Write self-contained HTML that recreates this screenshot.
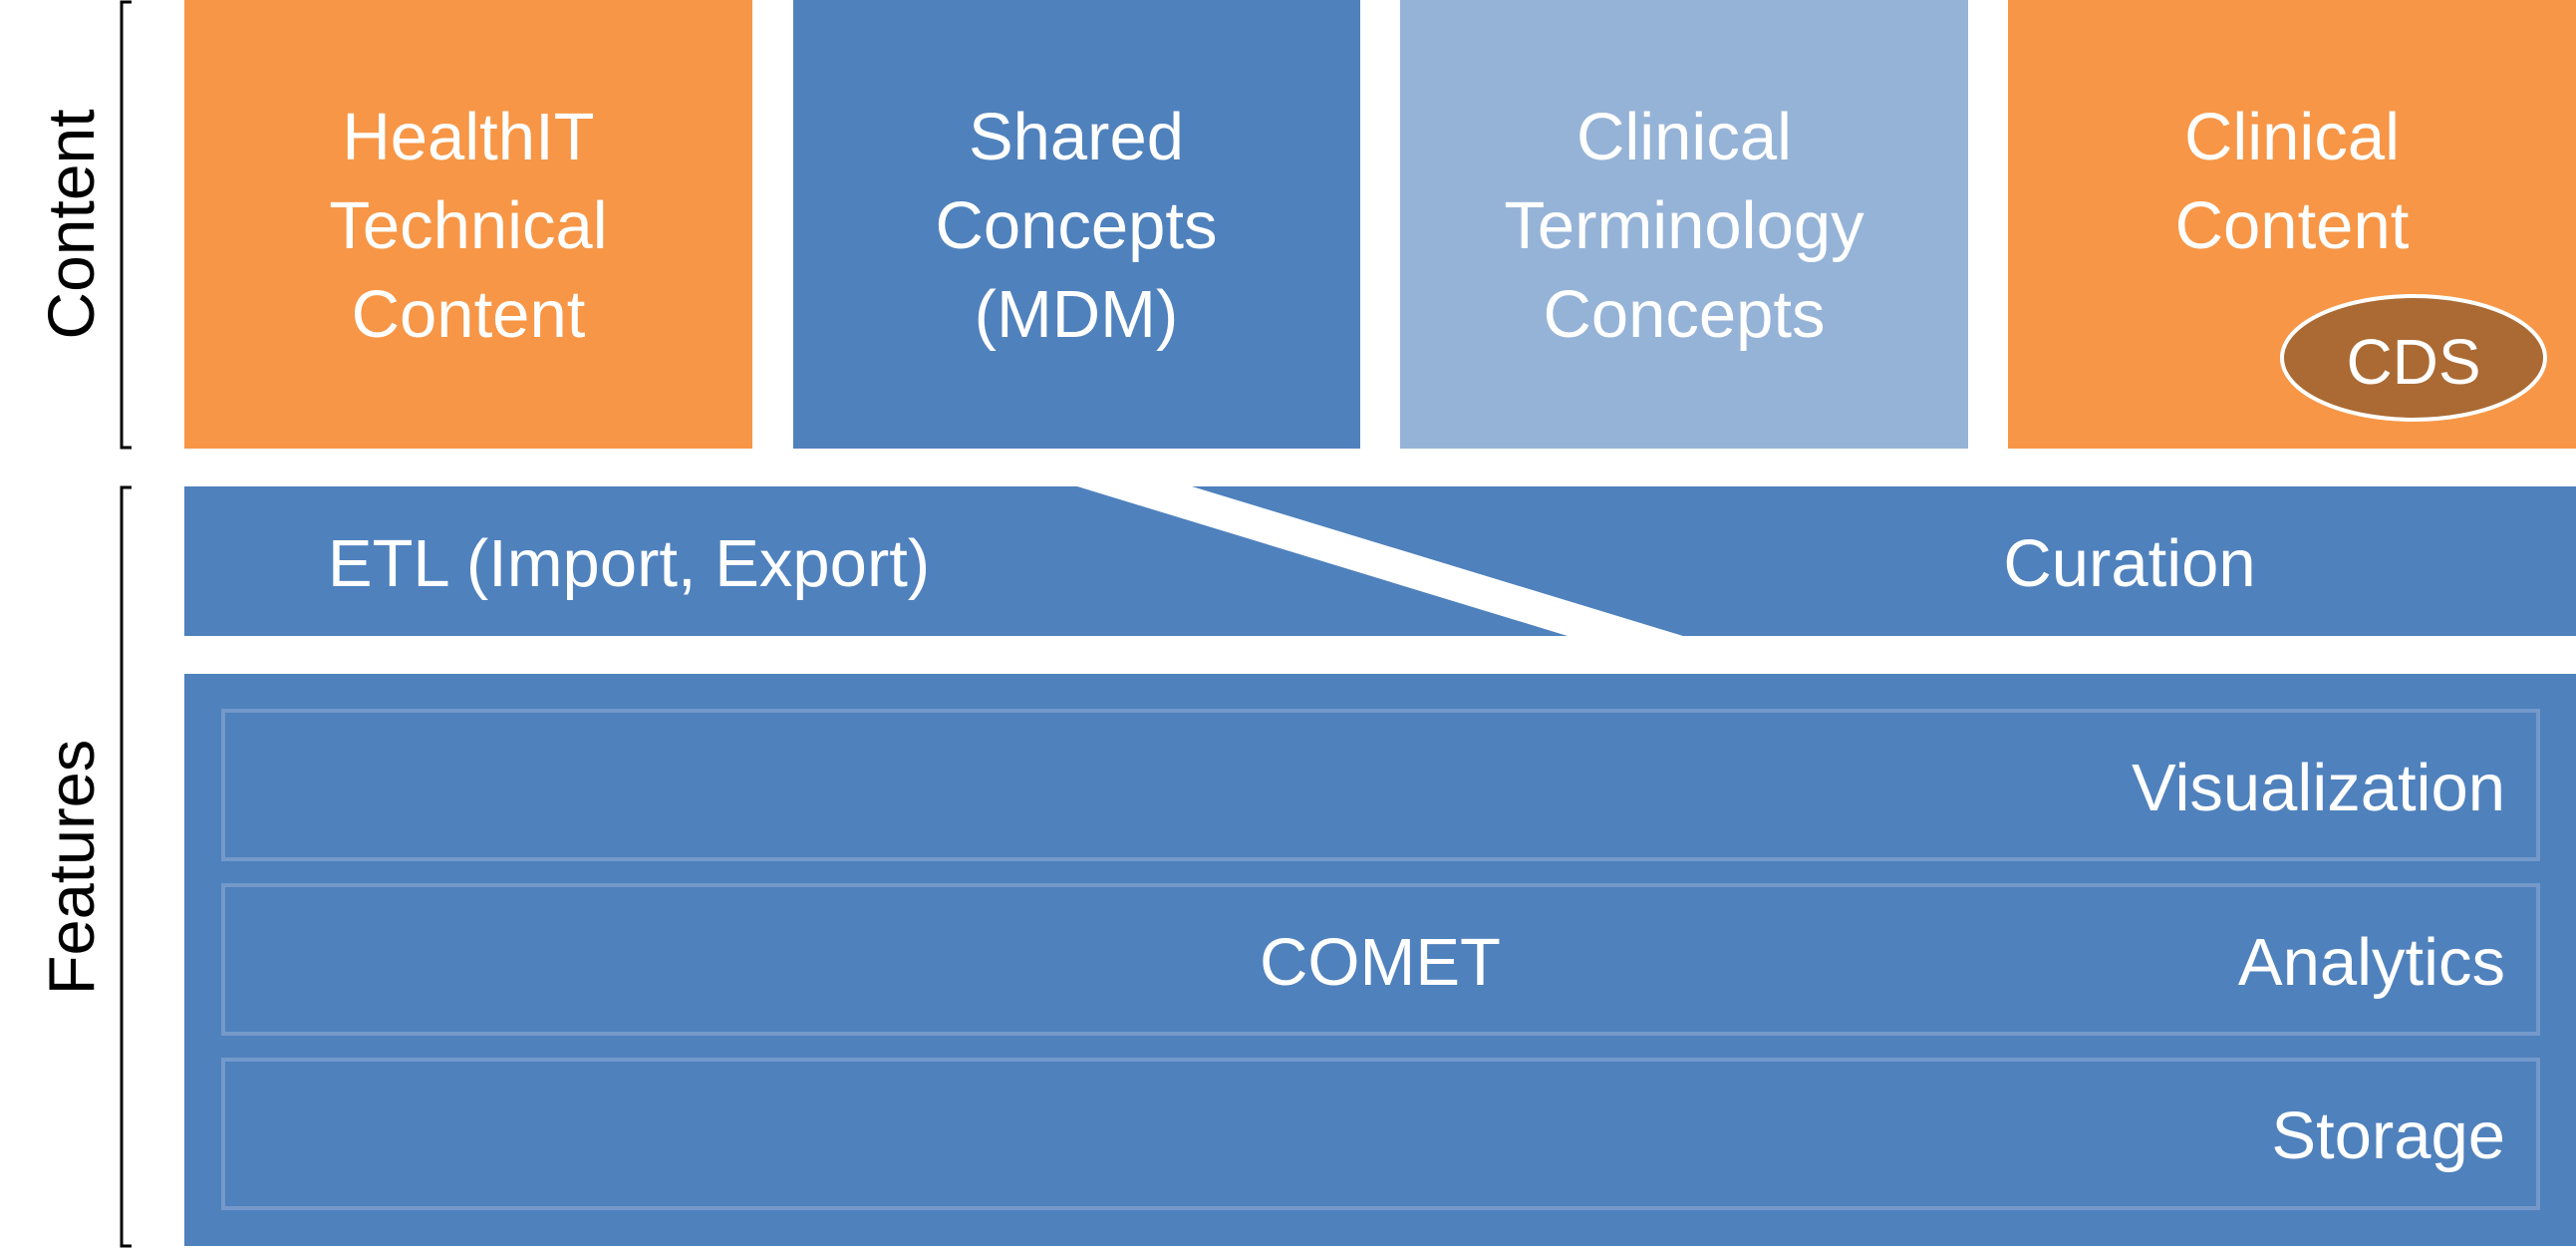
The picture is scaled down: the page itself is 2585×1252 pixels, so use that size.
<!DOCTYPE html>
<html><head><meta charset="utf-8"><style>
html,body{margin:0;padding:0;background:#fff;}
svg{display:block;}
text{font-family:"Liberation Sans",sans-serif;fill:#fff;}
</style></head><body>
<svg width="2585" height="1252" viewBox="0 0 2585 1252" xmlns="http://www.w3.org/2000/svg">
<!-- brackets -->
<path d="M132,2 L122,2 L122,449 L132,449" fill="none" stroke="#000" stroke-width="3"/>
<path d="M132,489 L122,489 L122,1250 L132,1250" fill="none" stroke="#000" stroke-width="3"/>
<text x="0" y="0" transform="translate(94,225) rotate(-90)" text-anchor="middle" font-size="66" style="fill:#000">Content</text>
<text x="0" y="0" transform="translate(94,870) rotate(-90)" text-anchor="middle" font-size="65" style="fill:#000">Features</text>

<!-- top boxes -->
<rect x="185" y="0" width="570" height="450" fill="#f79646"/>
<rect x="796" y="0" width="569" height="450" fill="#4f81bd"/>
<rect x="1405" y="0" width="570" height="450" fill="#95b3d7"/>
<rect x="2015" y="0" width="570" height="450" fill="#f79646"/>

<g font-size="67" text-anchor="middle">
<text x="470" y="160">HealthIT</text>
<text x="470" y="249">Technical</text>
<text x="470" y="338">Content</text>
<text x="1080" y="160">Shared</text>
<text x="1080" y="249">Concepts</text>
<text x="1080" y="338">(MDM)</text>
<text x="1690" y="160">Clinical</text>
<text x="1690" y="249">Terminology</text>
<text x="1690" y="338">Concepts</text>
<text x="2300" y="160">Clinical</text>
<text x="2300" y="249">Content</text>
</g>
<ellipse cx="2422" cy="359" rx="132" ry="62" fill="#ab6a33" stroke="#fff" stroke-width="4"/>
<text x="2422" y="385" font-size="64" text-anchor="middle">CDS</text>

<!-- ETL / Curation band -->
<rect x="185" y="488" width="2400" height="150" fill="#4f81bd"/>
<polygon points="1081,488 1196,488 1689,638 1573,638" fill="#fff"/>
<text x="631" y="588" font-size="67" text-anchor="middle">ETL (Import, Export)</text>
<text x="2137" y="588" font-size="67" text-anchor="middle">Curation</text>

<!-- bottom block -->
<rect x="185" y="676" width="2400" height="574" fill="#4f81bd"/>
<rect x="224" y="713" width="2323" height="149" fill="none" stroke="#7499ca" stroke-width="4"/>
<rect x="224" y="888" width="2323" height="149" fill="none" stroke="#7499ca" stroke-width="4"/>
<rect x="224" y="1063" width="2323" height="149" fill="none" stroke="#7499ca" stroke-width="4"/>
<g font-size="67" text-anchor="end">
<text x="2514" y="813">Visualization</text>
<text x="2514" y="988">Analytics</text>
<text x="2514" y="1162">Storage</text>
</g>
<text x="1385" y="988" font-size="67" text-anchor="middle">COMET</text>
</svg>
</body></html>
